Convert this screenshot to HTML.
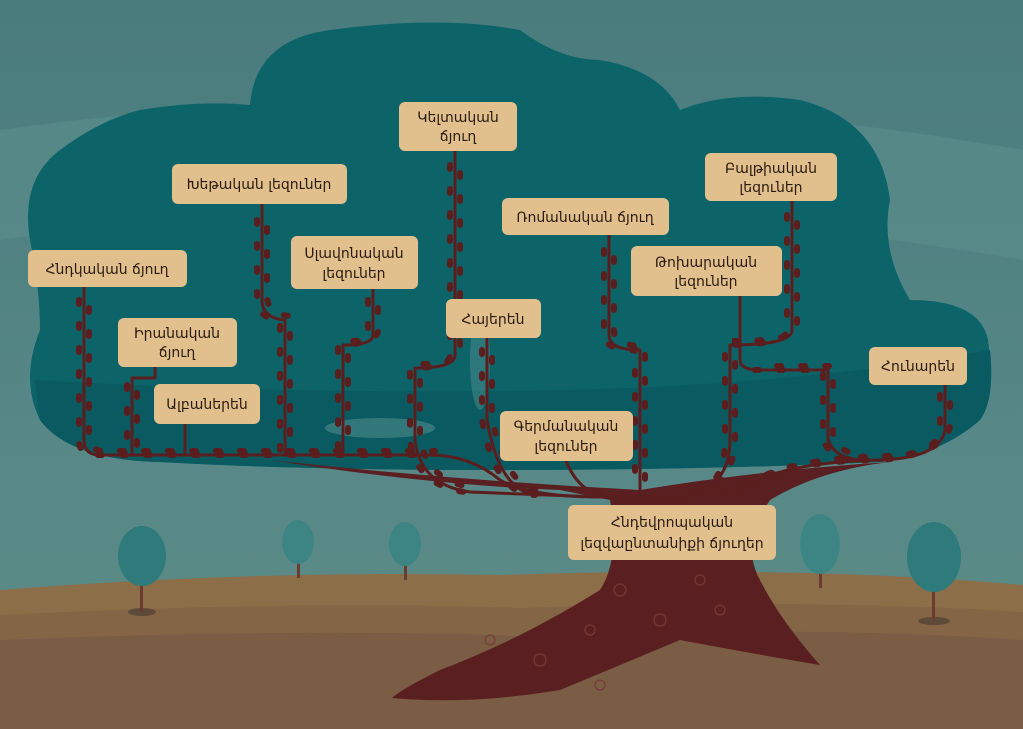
<!DOCTYPE html>
<html><head><meta charset="utf-8">
<style>
html,body{margin:0;padding:0;width:1023px;height:729px;overflow:hidden;background:#4f8080}
svg{display:block}
text{font-family:"DejaVu Sans","Liberation Sans",sans-serif;font-size:14px;fill:#2a1a10;text-anchor:middle}
</style></head><body>
<svg width="1023" height="729" viewBox="0 0 1023 729" xmlns="http://www.w3.org/2000/svg">
<defs>
<linearGradient id="sky" x1="0" y1="0" x2="0" y2="1">
<stop offset="0" stop-color="#4a7b7d"/><stop offset="0.6" stop-color="#578887"/><stop offset="1" stop-color="#5d8b86"/>
</linearGradient>
</defs>
<rect width="1023" height="729" fill="url(#sky)"/>
<path d="M0 130 Q500 60 1023 150 L1023 260 Q500 170 0 240Z" fill="#5a8d8c" opacity="0.6"/>
<path d="M0 590 Q250 570 500 575 Q800 565 1023 585 L1023 729 L0 729Z" fill="#8c6e48"/>
<path d="M0 615 Q300 600 520 608 Q800 598 1023 612 L1023 729 L0 729Z" fill="#846646"/>
<path d="M0 640 Q300 628 520 636 Q800 625 1023 640 L1023 729 L0 729Z" fill="#7b5c45"/>
<g>
<ellipse cx="142" cy="612" rx="14" ry="4" fill="#5e4a38"/><rect x="140" y="560" width="3" height="52" fill="#6b3a30"/><ellipse cx="142" cy="556" rx="24" ry="30" fill="#2f7a7a"/>
<rect x="297" y="548" width="3" height="30" fill="#6b3a30"/><ellipse cx="298" cy="542" rx="16" ry="22" fill="#3d8585"/>
<rect x="404" y="548" width="3" height="32" fill="#6b3a30"/><ellipse cx="405" cy="544" rx="16" ry="22" fill="#3d8585"/>
<rect x="819" y="550" width="3" height="38" fill="#6b3a30"/><ellipse cx="820" cy="544" rx="20" ry="30" fill="#3d8585"/>
<ellipse cx="934" cy="621" rx="16" ry="4" fill="#5e4a38"/><rect x="932" y="570" width="3" height="50" fill="#6b3a30"/><ellipse cx="934" cy="557" rx="27" ry="35" fill="#2f7a7a"/>
</g>
<path d="M30 240 Q20 180 60 150 Q100 120 140 110 Q200 100 250 105 Q255 40 330 30 Q440 15 520 30 Q560 60 600 60 Q660 70 680 110 Q730 90 800 100 Q880 120 890 200 Q880 250 910 300 Q980 300 988 340 Q995 390 980 420 Q940 455 880 462 Q700 470 500 470 Q300 470 160 462 Q70 460 40 420 Q20 380 40 330 Q40 290 30 240Z" fill="#0c6469"/>
<path d="M35 380 Q300 395 560 390 Q800 385 990 350 Q995 400 980 420 Q940 455 880 462 Q700 470 500 470 Q300 470 160 462 Q70 460 40 420Z" fill="#0a5a61"/>
<ellipse cx="380" cy="428" rx="55" ry="10" fill="#4d8c8c" opacity="0.6"/>
<ellipse cx="480" cy="360" rx="10" ry="50" fill="#4d8c8c" opacity="0.5"/>
<path d="M270 460 Q430 485 560 490 L610 500 Q620 560 600 590 Q520 640 440 670 Q400 690 392 698 Q470 705 560 690 Q620 665 680 640 Q760 655 820 665 Q780 620 760 580 Q740 545 770 500 Q820 470 890 462 Q760 470 640 490 Q450 480 270 460Z" fill="#5a1f20"/>
<g fill="none" stroke="#7a3a3a" stroke-width="1.5" opacity="0.8">
<circle cx="620" cy="590" r="6"/><circle cx="660" cy="620" r="6"/><circle cx="540" cy="660" r="6"/><circle cx="700" cy="580" r="5"/><circle cx="590" cy="630" r="5"/><circle cx="490" cy="640" r="5"/><circle cx="720" cy="610" r="5"/><circle cx="600" cy="685" r="5"/>
</g>
<g fill="none" stroke="#5a1e1e" stroke-width="3" stroke-linejoin="round">
<path d="M84 287 V440 Q84 455 100 455 H430 Q470 455 500 480 Q530 497 600 497 H680"/>
<path d="M155 367 V378 H132 V455"/>
<path d="M185 424 V455"/>
<path d="M262 204 V300 Q262 318 285 320 V455"/>
<path d="M373 289 V335 Q373 345 343 345 V455"/>
<path d="M455 151 V355 Q455 368 415 368 V440 Q420 485 470 492 L600 497"/>
<path d="M487 338 V420 Q500 495 540 495"/>
<path d="M566 461 Q580 495 610 497"/>
<path d="M609 235 V335 Q609 350 640 350 V497"/>
<path d="M792 201 V330 Q792 345 730 345 V440 Q730 490 680 497"/>
<path d="M740 296 V360 Q740 370 760 370 H828 V440 Q835 458 860 460"/>
<path d="M945 385 V430 Q940 458 880 460 Q780 462 740 490 L680 497"/>
</g>
<g id="lv" fill="none" stroke="#5a1e1e" stroke-width="6" stroke-linecap="round" stroke-dasharray="4 20" transform="translate(-5,0)">
<path d="M84 300 V440 Q84 455 100 455 H430"/>
<path d="M132 385 V455"/>
<path d="M262 220 V300 Q262 318 285 320 V455"/>
<path d="M373 300 V335 Q373 345 343 345 V455"/>
<path d="M455 165 V355 Q455 368 415 368 V440 Q420 485 470 492"/>
<path d="M487 350 V420 Q500 495 540 495"/>
<path d="M609 250 V335 Q609 350 640 350 V490"/>
<path d="M792 215 V330 Q792 345 730 345 V440 Q730 490 690 497"/>
<path d="M760 370 H828 V440 Q835 458 860 460"/>
<path d="M945 395 V430 Q940 458 880 460 Q780 462 740 490"/>
</g>
<g fill="none" stroke="#5a1e1e" stroke-width="6" stroke-linecap="round" stroke-dasharray="4 20" stroke-dashoffset="12" transform="translate(5,-4)">
<path d="M84 300 V440 Q84 455 100 455 H430"/>
<path d="M132 385 V455"/>
<path d="M262 220 V300 Q262 318 285 320 V455"/>
<path d="M373 300 V335 Q373 345 343 345 V455"/>
<path d="M455 165 V355 Q455 368 415 368 V440 Q420 485 470 492"/>
<path d="M487 350 V420 Q500 495 540 495"/>
<path d="M609 250 V335 Q609 350 640 350 V490"/>
<path d="M792 215 V330 Q792 345 730 345 V440 Q730 490 690 497"/>
<path d="M760 370 H828 V440 Q835 458 860 460"/>
<path d="M945 395 V430 Q940 458 880 460 Q780 462 740 490"/>
</g>
<g fill="#e2c08e">
<rect x="28" y="250" width="159" height="37" rx="6"/>
<rect x="172" y="164" width="175" height="40" rx="6"/>
<rect x="399" y="102" width="118" height="49" rx="6"/>
<rect x="291" y="236" width="127" height="53" rx="6"/>
<rect x="118" y="318" width="119" height="49" rx="6"/>
<rect x="154" y="384" width="106" height="40" rx="6"/>
<rect x="446" y="299" width="95" height="39" rx="6"/>
<rect x="502" y="198" width="167" height="37" rx="6"/>
<rect x="705" y="153" width="132" height="48" rx="6"/>
<rect x="631" y="246" width="151" height="50" rx="6"/>
<rect x="869" y="347" width="98" height="38" rx="6"/>
<rect x="500" y="411" width="133" height="50" rx="6"/>
<rect x="568" y="505" width="208" height="55" rx="6"/>
</g>
<text x="107" y="274">Հնդկական ճյուղ</text>
<text x="259" y="189">Խեթական լեզուներ</text>
<text x="458" y="122">Կելտական</text><text x="458" y="141">ճյուղ</text>
<text x="354" y="258">Սլավոնական</text><text x="354" y="278">լեզուներ</text>
<text x="177" y="338">Իրանական</text><text x="177" y="357">ճյուղ</text>
<text x="207" y="409">Ալբաներեն</text>
<text x="493" y="324">Հայերեն</text>
<text x="585" y="222">Ռոմանական ճյուղ</text>
<text x="771" y="173">Բալթիական</text><text x="771" y="192">լեզուներ</text>
<text x="706" y="267">Թոխարական</text><text x="706" y="286">լեզուներ</text>
<text x="918" y="371">Հունարեն</text>
<text x="566" y="431">Գերմանական</text><text x="566" y="451">լեզուներ</text>
<text x="672" y="527">Հնդեվրոպական</text><text x="672" y="548">լեզվաընտանիքի ճյուղեր</text>
</svg>
</body></html>
